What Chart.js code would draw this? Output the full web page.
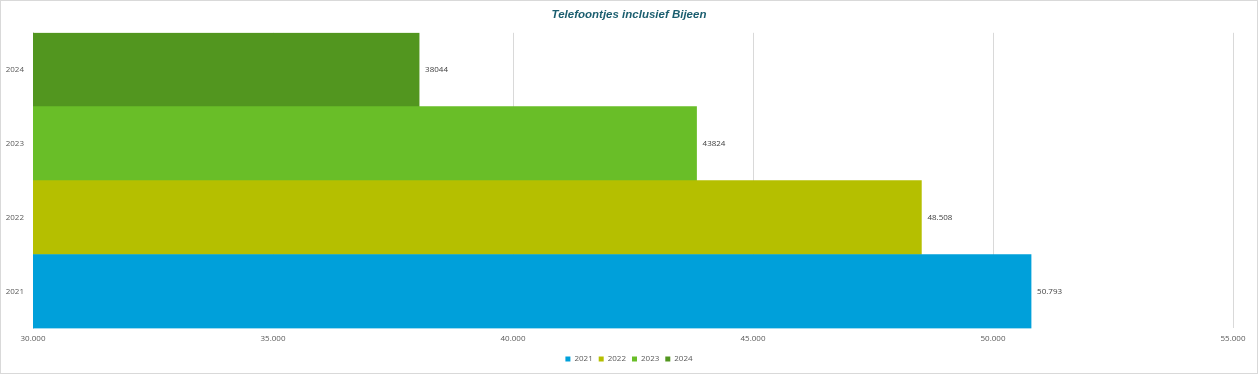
<!DOCTYPE html>
<html>
<head>
<meta charset="utf-8">
<script src="https://cdn.jsdelivr.net/npm/chart.js@4/dist/chart.umd.min.js"></script>
<style>
  html, body { margin: 0; padding: 0; background: #fff; }
  #wrap { position: relative; width: 1258px; height: 374px; box-sizing: border-box; border: 1px solid #d9d9d9; }
</style>
</head>
<body>
<div id="wrap"><canvas id="c"></canvas></div>
<script>
const categories = ['2021', '2022', '2023', '2024'];
const values = [50793, 48508, 43824, 38044];
const valueLabels = ['50.793', '48.508', '43824', '38044'];
const xTicks = [30000, 35000, 40000, 45000, 50000, 55000];
const colors = ['#00A0DA', '#B5BF00', '#69BE28', '#52961F'];

const fmt = v => v.toString().replace(/\B(?=(\d{3})+(?!\d))/g, '.');

const datasets = categories.map((c, i) => ({
  label: c,
  data: categories.map((_, j) => (j === i ? values[i] : null)),
  backgroundColor: colors[i],
  borderWidth: 0,
  barPercentage: 1,
  categoryPercentage: 1
}));

const labelPlugin = {
  id: 'valueLabels',
  afterDatasetsDraw(chart) {
    const ctx = chart.ctx;
    ctx.save();
    ctx.font = '8px "Open Sans"';
    ctx.fillStyle = '#404040';
    ctx.textBaseline = 'middle';
    ctx.textAlign = 'left';
    chart.data.datasets.forEach((ds, i) => {
      const meta = chart.getDatasetMeta(i);
      meta.data.forEach((el, j) => {
        if (ds.data[j] == null) return;
        ctx.fillText(valueLabels[i], el.x + 6, el.y);
      });
    });
    ctx.restore();
  }
};

new Chart(document.getElementById('c'), {
  type: 'bar',
  data: { labels: categories, datasets },
  plugins: [labelPlugin],
  options: {
    indexAxis: 'y',
    responsive: true,
    maintainAspectRatio: false,
    animation: false,
    skipNull: true,
    layout: { padding: { left: 0, right: 0, top: 1, bottom: 0 } },
    plugins: {
      title: {
        display: true,
        text: 'Telefoontjes inclusief Bijeen',
        color: '#1B5E6F',
        font: { family: '"Liberation Sans", Arial', size: 11.5, weight: 'bold', style: 'italic' },
        padding: { top: 6, bottom: 11 }
      },
      legend: {
        position: 'bottom',
        labels: {
          boxWidth: 5, boxHeight: 5, padding: 6,
          color: '#595959',
          font: { family: '"Open Sans"', size: 8 }
        }
      },
      tooltip: { enabled: false }
    },
    scales: {
      x: {
        min: 30000, max: 55000,
        afterBuildTicks: s => { s.ticks = xTicks.map(v => ({ value: v })); },
        afterFit: s => { s.height -= 1; },
        ticks: { callback: v => fmt(v), color: '#595959', font: { family: '"Open Sans"', size: 8 }, padding: 6, maxRotation: 0 },
        grid: { color: '#d9d9d9', drawTicks: false },
        border: { display: false }
      },
      y: {
        reverse: true,
        afterFit: s => { s.width = 32; },
        ticks: { color: '#595959', font: { family: '"Open Sans"', size: 8 }, padding: 9 },
        grid: { display: false, drawTicks: false },
        border: { display: true, color: '#d9d9d9' }
      },
      yRight: {
        type: 'linear',
        position: 'right',
        display: true,
        afterFit: s => { s.width = 24; },
        ticks: { display: false },
        grid: { display: false, drawTicks: false },
        border: { display: false }
      }
    }
  }
});
</script>
</body>
</html>
